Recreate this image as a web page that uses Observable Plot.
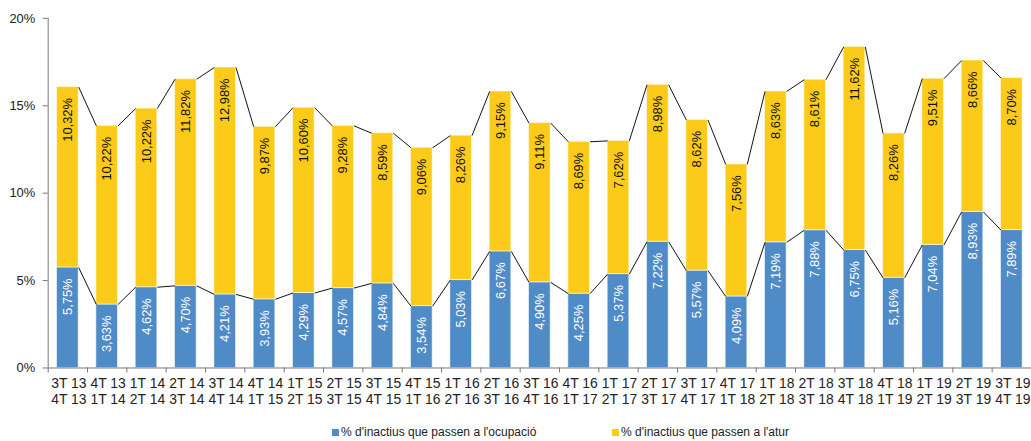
<!DOCTYPE html>
<html>
<head>
<meta charset="utf-8">
<script src="https://cdn.jsdelivr.net/npm/d3@7"></script>
<script src="https://cdn.jsdelivr.net/npm/@observablehq/plot@0.6"></script>
<style>
  html, body { margin: 0; padding: 0; background: #fff; overflow: hidden; width: 1031px; height: 441px; }
  #chart { width: 1031px; overflow: hidden; }
  .legend { position: absolute; top: 424px; left: 0; width: 1031px; height: 16px; font-family: "Liberation Sans", Arial, sans-serif; font-size: 12px; color: #222; }
  .legend span.item { position: absolute; top: 0; white-space: nowrap; line-height: 16px; }
  .legend span.sw { display: inline-block; width: 7px; height: 7px; margin-right: 2px; vertical-align: 0px; }
</style>
</head>
<body>
<div id="chart"></div>
<div class="legend">
  <span class="item" style="left:332px"><span class="sw" style="background:#4F8BC6"></span>% d'inactius que passen a l'ocupació</span>
  <span class="item" style="left:612px"><span class="sw" style="background:#FCCB1A"></span>% d'inactius que passen a l'atur</span>
</div>
<script>
const periods = ["3T 13\n4T 13","4T 13\n1T 14","1T 14\n2T 14","2T 14\n3T 14","3T 14\n4T 14","4T 14\n1T 15","1T 15\n2T 15","2T 15\n3T 15","3T 15\n4T 15","4T 15\n1T 16","1T 16\n2T 16","2T 16\n3T 16","3T 16\n4T 16","4T 16\n1T 17","1T 17\n2T 17","2T 17\n3T 17","3T 17\n4T 17","4T 17\n1T 18","1T 18\n2T 18","2T 18\n3T 18","3T 18\n4T 18","4T 18\n1T 19","1T 19\n2T 19","2T 19\n3T 19","3T 19\n4T 19"];
const toEmployment = [5.75,3.63,4.62,4.70,4.21,3.93,4.29,4.57,4.84,3.54,5.03,6.67,4.90,4.25,5.37,7.22,5.57,4.09,7.19,7.88,6.75,5.16,7.04,8.93,7.89];
const toUnemployment = [10.32,10.22,10.22,11.82,12.98,9.87,10.60,9.28,8.59,9.06,8.26,9.15,9.11,8.69,7.62,8.98,8.62,7.56,8.63,8.61,11.62,8.26,9.51,8.66,8.70];
const yTicks = [0,5,10,15,20];
const seriesNames = ["% d'inactius que passen a l'ocupació","% d'inactius que passen a l'atur"];

const BLUE = "#4F8BC6", YELLOW = "#FCCB1A";
const half = 0.275; // half bar width as fraction of a band

const segs = [];
periods.forEach((p, i) => {
  const a = toEmployment[i], b = toUnemployment[i];
  segs.push({i, s: seriesNames[0], lo: 0, hi: a, v: a});
  segs.push({i, s: seriesNames[1], lo: a, hi: a + b, v: b});
});
const links = [];
for (let i = 0; i < periods.length - 1; i++) {
  links.push({a: i, b: i + 1, y1: toEmployment[i], y2: toEmployment[i + 1]});
  links.push({a: i, b: i + 1, y1: toEmployment[i] + toUnemployment[i], y2: toEmployment[i + 1] + toUnemployment[i + 1]});
}
const fmt = v => v.toFixed(2).replace(".", ",") + "%";
const font = "Liberation Sans, Arial, sans-serif";

const chart = Plot.plot({
  width: 1038,
  height: 416,
  marginLeft: 48,
  marginRight: 0,
  marginTop: 18,
  marginBottom: 46,
  style: {fontFamily: font, fontSize: "13px", color: "#222", background: "white", overflow: "visible"},
  x: {type: "linear", domain: [0, periods.length], axis: null},
  y: {domain: [0, 20], axis: null},
  color: {domain: seriesNames, range: [BLUE, YELLOW]},
  marks: [
    Plot.rectY(segs, {x1: d => d.i + 0.5 - half, x2: d => d.i + 0.5 + half, y1: "lo", y2: "hi", fill: "s", stroke: "white", strokeOpacity: 0.55, strokeWidth: 1}),
    Plot.link(links, {x1: d => d.a + 0.5 + half, x2: d => d.b + 0.5 - half, y1: "y1", y2: "y2", stroke: "#111", strokeWidth: 1}),
    Plot.text(segs, {x: d => d.i + 0.5, y: "hi", text: d => fmt(d.v), rotate: -90, textAnchor: "end", dy: 11, fill: d => d.s === seriesNames[0] ? "white" : "#111", fontSize: 13}),
    Plot.ruleY([0], {stroke: "#777"}),
    Plot.ruleX([0], {y1: 0, y2: 20, stroke: "#777"}),
    Plot.axisY({ticks: yTicks, tickSize: 5, tickPadding: 8, tickFormat: d => d + "%", stroke: "#777", fill: "#222", fontSize: 13}),
    Plot.axisX({ticks: d3.range(0, periods.length + 1), tickSize: 5, tickFormat: () => "", stroke: "#777"}),
    Plot.text(periods, {x: (d, i) => i + 0.5, frameAnchor: "bottom", lineAnchor: "top", dy: 9, dx: 1, lineHeight: 1.15, text: d => d, fontSize: 14, fill: "#222"})
  ]
});
document.getElementById("chart").appendChild(chart);
</script>
</body>
</html>
